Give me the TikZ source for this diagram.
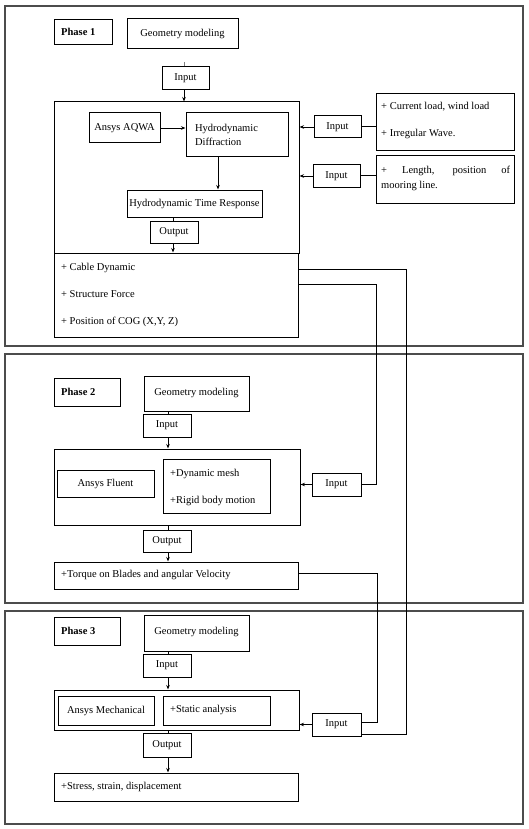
\documentclass[tikz,border=0pt]{standalone}
\usepackage{fontspec}
\setmainfont{Liberation Serif}
\usetikzlibrary{arrows.meta}
\tikzset{
  bx/.style={draw, line width=1pt, inner sep=0pt, font=\fontsize{10.5}{14}\selectfont},
  frm/.style={draw=black!70, line width=1.1pt},
  arr/.style={-{Stealth[length=4.5pt,width=3.5pt]}, line width=0.8pt},
  ln/.style={line width=1pt},
  txt/.style={inner sep=0pt, anchor=west, font=\fontsize{10.5}{14}\selectfont},
  phs/.style={bx, font=\fontsize{10.5}{14}\selectfont\bfseries},
}
\begin{document}
\begin{tikzpicture}[x=1pt,y=-1pt]
\useasboundingbox (0,0) rectangle (528,829);
\fill[white] (0,0) rectangle (528,829);
% frames
\draw[frm] (5,6) rectangle (523,346);
\draw[frm] (5,354) rectangle (523,603);
\draw[frm] (5,611) rectangle (523,824);

% ---------------- Phase 1
\node[phs, minimum width=58pt, minimum height=25pt] (ph1) at (83,32.5) {};
\node[txt, font=\fontsize{10.5}{14}\selectfont\bfseries] (ph1t) at (61,32) {Phase 1};
\node[bx, minimum width=111pt, minimum height=30pt] (geo1) at (182.5,34) {Geometry modeling};
\node[bx, minimum width=47pt, minimum height=23pt] (in1) at (185.5,78.5) {Input};
\node[bx, minimum width=245pt, minimum height=151pt] (big1) at (176.5,177.5) {};
\node[bx, minimum width=71pt, minimum height=30pt] (aqwa) at (124.5,128) {Ansys AQWA};
\node[bx, minimum width=102pt, minimum height=44pt, text width=84pt, align=left] (hd) at (237,135) {Hydrodynamic\\Diffraction};
\node[bx, minimum width=135pt, minimum height=27pt] (htr) at (194.5,203.5) {Hydrodynamic Time Response};
\node[bx, minimum width=48pt, minimum height=22pt] (out1) at (174,232) {Output};
\node[bx, minimum width=244pt, minimum height=84pt] (res1) at (176,295) {};
\node[txt] (r1a) at (61,268) {+ Cable Dynamic};
\node[txt] (r1b) at (61,294) {+ Structure Force};
\node[txt] (r1c) at (61,322) {+ Position of COG (X,Y, Z)};
\node[bx, minimum width=47pt, minimum height=22pt] (rin1) at (337.5,127) {Input};
\node[bx, minimum width=138pt, minimum height=57pt] (rbox1) at (445,122.5) {};
\node[txt] (rb1a) at (381,107) {+ Current load, wind load};
\node[txt] (rb1b) at (381,134) {+ Irregular Wave.};
\node[bx, minimum width=47pt, minimum height=22pt] (rin2) at (336.5,176) {Input};
\node[bx, minimum width=138pt, minimum height=47pt] (rbox2) at (445,179.5) {};
\node[txt] (rb2a) at (381,171) {\makebox[129pt][s]{+ Length, position of}};
\node[txt] (rb2b) at (381,186) {mooring line.};

\coordinate (stub1) at (184,62);
\draw[line width=0.6pt, black!50] (stub1) -- (stub1 |- in1.north);
\draw[arr] (in1.south -| stub1) -- (big1.north -| stub1);
\draw[arr] (aqwa.east) -- (hd.west |- aqwa.east);
\coordinate (hdx) at (218,0);
\draw[arr] (hd.south -| hdx) -- (htr.north -| hdx);
\coordinate (ox1) at (173,0);
\draw[ln] (htr.south -| ox1) -- (out1.north -| ox1);
\draw[arr] (out1.south -| ox1) -- (res1.north -| ox1);
\draw[ln] (rbox1.west |- rin1.east) -- (rin1.east);
\draw[arr] (rin1.west) -- (big1.east |- rin1.west);
\draw[ln] (rbox2.west |- rin2.east) -- (rin2.east);
\draw[arr] (rin2.west) -- (big1.east |- rin2.west);

% ---------------- Phase 2
\node[phs, minimum width=66pt, minimum height=28pt] (ph2) at (87,392) {};
\node[txt, font=\fontsize{10.5}{14}\selectfont\bfseries] (ph2t) at (61,392) {Phase 2};
\node[bx, minimum width=105pt, minimum height=35pt] (geo2) at (196.5,393.5) {\raisebox{3pt}{Geometry modeling}};
\node[bx, minimum width=48pt, minimum height=23pt] (in2) at (167,425.5) {Input};
\node[bx, minimum width=246pt, minimum height=76pt] (big2) at (177,487) {};
\node[bx, minimum width=97pt, minimum height=27pt] (fluent) at (105.5,483.5) {Ansys Fluent};
\node[bx, minimum width=107pt, minimum height=54pt] (dm) at (216.5,486) {};
\node[txt] (dma) at (170,474) {+Dynamic mesh};
\node[txt] (dmb) at (170,501) {+Rigid body motion};
\node[bx, minimum width=48pt, minimum height=22pt] (out2) at (167,541) {Output};
\node[bx, minimum width=244pt, minimum height=27pt] (torque) at (176,575.5) {};
\node[txt] (tq) at (61,575) {+Torque on Blades and angular Velocity};
\node[bx, minimum width=49pt, minimum height=23pt] (rin3) at (336.5,484.5) {Input};

\coordinate (x2) at (168,0);
\draw[ln] (geo2.south -| x2) -- (in2.north -| x2);
\draw[arr] (in2.south -| x2) -- (big2.north -| x2);
\draw[ln] (big2.south -| x2) -- (out2.north -| x2);
\draw[arr] (out2.south -| x2) -- (torque.north -| x2);
\draw[arr] (rin3.west) -- (big2.east |- rin3.west);

% ---------------- Phase 3
\node[phs, minimum width=66pt, minimum height=28pt] (ph3) at (87,631) {};
\node[txt, font=\fontsize{10.5}{14}\selectfont\bfseries] (ph3t) at (61,631) {Phase 3};
\node[bx, minimum width=105pt, minimum height=36pt] (geo3) at (196.5,633) {\raisebox{4pt}{Geometry modeling}};
\node[bx, minimum width=48pt, minimum height=23pt] (in3) at (167,665.5) {Input};
\node[bx, minimum width=245pt, minimum height=40pt] (big3) at (176.5,710) {};
\node[bx, minimum width=96pt, minimum height=29pt] (mech) at (106,710.5) {Ansys Mechanical};
\node[bx, minimum width=107pt, minimum height=29pt] (stat) at (216.5,710.5) {};
\node[txt] (statt) at (170,710) {+Static analysis};
\node[bx, minimum width=48pt, minimum height=24pt] (out3) at (167,745) {Output};
\node[bx, minimum width=244pt, minimum height=28pt] (stress) at (176,787) {};
\node[txt] (st) at (61,787) {+Stress, strain, displacement};
\node[bx, minimum width=49pt, minimum height=23pt] (rin4) at (336.5,724.5) {Input};

\draw[ln] (geo3.south -| x2) -- (in3.north -| x2);
\draw[arr] (in3.south -| x2) -- (big3.north -| x2);
\draw[ln] (big3.south -| x2) -- (out3.north -| x2);
\draw[arr] (out3.south -| x2) -- (stress.north -| x2);
\draw[arr] (rin4.west) -- (big3.east |- rin4.west);

% ---------------- long connectors
\coordinate (a1) at (406,269);
\coordinate (a2) at (406,734);
\draw[ln] (res1.east |- a1) -- (a1) -- (a2) -- (rin4.east |- a2);
\coordinate (b1) at (376,284);
\coordinate (b2) at (376,484.5);
\draw[ln] (res1.east |- b1) -- (b1) -- (b2) -- (rin3.east);
\coordinate (c1) at (377,573);
\coordinate (c2) at (377,722);
\draw[ln] (torque.east |- c1) -- (c1) -- (c2) -- (rin4.east |- c2);
\end{tikzpicture}
\end{document}
